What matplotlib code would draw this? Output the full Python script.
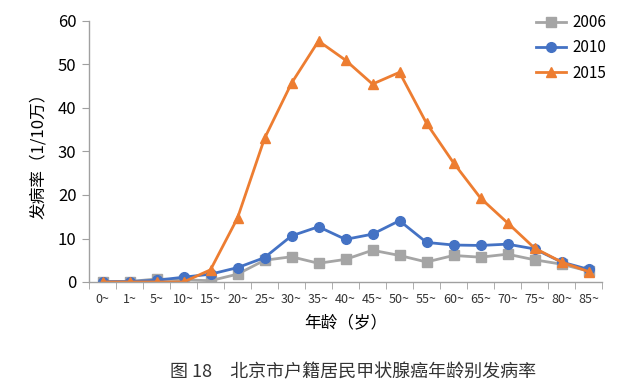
import matplotlib
matplotlib.use("Agg")
import matplotlib.pyplot as plt
import numpy as np

plt.rcParams['font.family'] = ['Noto Sans CJK SC', 'DejaVu Sans']

# 年龄组
AGE_GROUPS = ['0~', '1~', '5~', '10~', '15~', '20~', '25~', '30~', '35~', '40~',
              '45~', '50~', '55~', '60~', '65~', '70~', '75~', '80~', '85~']

# 发病率（1/10万）
RATE_2006 = [0.0, 0.1, 0.7, 0.5, 0.3, 1.8, 5.0, 5.8, 4.3, 5.2,
             7.3, 6.1, 4.6, 6.1, 5.7, 6.4, 5.1, 4.1, 2.5]
RATE_2010 = [0.1, 0.1, 0.4, 1.1, 1.8, 3.3, 5.6, 10.6, 12.7, 9.8,
             11.0, 14.1, 9.1, 8.5, 8.4, 8.7, 7.6, 4.6, 2.9]
RATE_2015 = [0.0, 0.0, 0.0, 0.0, 2.8, 14.7, 33.0, 45.7, 55.4, 51.0,
             45.5, 48.2, 36.5, 27.4, 19.3, 13.6, 7.8, 4.6, 2.4]

fig = plt.figure(figsize=(6.4, 3.92), dpi=100)
ax = fig.add_axes([89 / 640, 1 - 282 / 392, (602 - 89) / 640, (282 - 21) / 392])

x = np.arange(len(AGE_GROUPS))
ax.plot(x, RATE_2006, '-s', color='#A5A5A5', lw=2, ms=6.5, label='2006')
ax.plot(x, RATE_2010, '-o', color='#4472C4', lw=2, ms=7, label='2010')
ax.plot(x, RATE_2015, '-^', color='#ED7D31', lw=2, ms=7, label='2015')

ax.set_xlim(-0.5, len(AGE_GROUPS) - 0.5)
ax.set_ylim(0, 60)
ax.set_yticks(range(0, 61, 10))
ax.set_xticks(x)
ax.set_xticklabels(AGE_GROUPS, fontsize=9, color='#333333')
ax.set_xticks(np.arange(-0.5, len(AGE_GROUPS)), minor=True)
ax.tick_params(axis='x', which='major', length=0, pad=8)
ax.tick_params(axis='x', which='minor', length=5, color='#A0A0A0', direction='out')
ax.tick_params(axis='y', length=5, color='#A0A0A0', labelsize=12, pad=4)

for s in ['top', 'right']:
    ax.spines[s].set_visible(False)
for s in ['left', 'bottom']:
    ax.spines[s].set_color('#A0A0A0')
    ax.spines[s].set_linewidth(1)

ax.set_xlabel('年龄（岁）', fontsize=12, labelpad=6)
ax.set_ylabel('发病率（1/10万）', fontsize=12, labelpad=8)

ax.legend(loc='upper right', bbox_to_anchor=(1.035, 1.08), frameon=False,
          fontsize=11, handlelength=2.0, labelspacing=0.55, handletextpad=0.4)

fig.text(0.552, 1 - 372 / 392, '图 18　北京市户籍居民甲状腺癌年龄别发病率',
         ha='center', va='center', fontsize=13, color='#333333')

fig.savefig('out.png', dpi=100)
